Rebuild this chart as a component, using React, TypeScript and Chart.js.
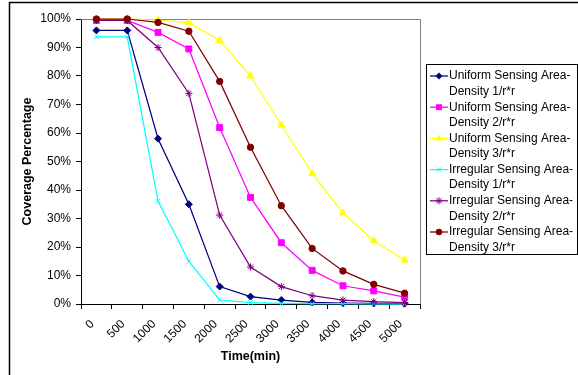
import React, { useEffect, useRef } from 'react';
import { Chart, registerables } from 'chart.js';

Chart.register(...registerables);

const FONT = "'Liberation Sans', Arial, sans-serif";

const timeLabels = ['0', '500', '1000', '1500', '2000', '2500', '3000', '3500', '4000', '4500', '5000'];
const yTickValues = [0, 10, 20, 30, 40, 50, 60, 70, 80, 90, 100];

const uniform1 = [96, 96, 58, 35, 6.1, 2.6, 1.4, 0.6, 0.3, 0.2, 0.1];
const uniform2 = [99.5, 99.5, 95.3, 89.5, 61.9, 37.4, 21.5, 11.8, 6.4, 4.6, 2.4];
const uniform3 = [100, 100, 99.6, 98.7, 92.5, 80, 62.8, 45.8, 31.9, 22.2, 15.4];
const irregular1 = [93.7, 93.7, 36.1, 15, 1.4, 0.5, 0.2, 0.1, 0.1, 0, 0];
const irregular2 = [99.5, 99.5, 90, 73.9, 31.2, 13, 6.1, 2.9, 1.4, 0.8, 0.5];
const irregular3 = [100, 100, 98.8, 95.7, 78.1, 55, 34.5, 19.5, 11.6, 6.9, 3.8];

const seriesNames = [
  ['Uniform Sensing Area-', 'Density 1/r*r'],
  ['Uniform Sensing Area-', 'Density 2/r*r'],
  ['Uniform Sensing Area-', 'Density 3/r*r'],
  ['Irregular Sensing Area-', 'Density 1/r*r'],
  ['Irregular Sensing Area-', 'Density 2/r*r'],
  ['Irregular Sensing Area-', 'Density 3/r*r'],
];
const seriesValues = [uniform1, uniform2, uniform3, irregular1, irregular2, irregular3];
const seriesColors = ['#000080', '#FF00FF', '#FFFF00', '#00FFFF', '#800080', '#800000'];
const seriesMarkers = ['rectRot', 'rect', 'triangle', 'crossRot', 'star', 'circle'];
const seriesRadius = [3.5, 4.2, 4, 3.2, 3.6, 3.2];

function drawMarker(ctx: CanvasRenderingContext2D, style: string, x: number, y: number, r: number, color: string) {
  ctx.save();
  ctx.fillStyle = color;
  ctx.strokeStyle = color;
  ctx.lineWidth = 1;
  ctx.beginPath();
  if (style === 'circle') {
    ctx.arc(x, y, r, 0, Math.PI * 2);
    ctx.fill();
  } else if (style === 'rect') {
    const s = r * Math.SQRT1_2;
    ctx.rect(x - s, y - s, 2 * s, 2 * s);
    ctx.fill();
  } else if (style === 'rectRot') {
    ctx.moveTo(x, y - r);
    ctx.lineTo(x + r, y);
    ctx.lineTo(x, y + r);
    ctx.lineTo(x - r, y);
    ctx.closePath();
    ctx.fill();
  } else if (style === 'triangle') {
    ctx.moveTo(x, y - r);
    ctx.lineTo(x + r * 0.87, y + r * 0.5);
    ctx.lineTo(x - r * 0.87, y + r * 0.5);
    ctx.closePath();
    ctx.fill();
  } else if (style === 'crossRot') {
    const s = r * Math.SQRT1_2;
    ctx.moveTo(x - s, y - s); ctx.lineTo(x + s, y + s);
    ctx.moveTo(x - s, y + s); ctx.lineTo(x + s, y - s);
    ctx.stroke();
  } else if (style === 'star') {
    const s = r * Math.SQRT1_2;
    ctx.moveTo(x - s, y - s); ctx.lineTo(x + s, y + s);
    ctx.moveTo(x - s, y + s); ctx.lineTo(x + s, y - s);
    ctx.moveTo(x, y - r); ctx.lineTo(x, y + r);
    ctx.moveTo(x - r, y); ctx.lineTo(x + r, y);
    ctx.stroke();
  }
  ctx.restore();
}

const framePlugin = {
  id: 'excelFrame',
  beforeDatasetsDraw(chart: any) {
    const { ctx, chartArea } = chart;
    ctx.save();
    ctx.strokeStyle = '#808080';
    ctx.lineWidth = 1;
    ctx.beginPath();
    ctx.moveTo(chartArea.left, Math.round(chartArea.top) + 0.5);
    ctx.lineTo(Math.round(chartArea.right) + 0.5, Math.round(chartArea.top) + 0.5);
    ctx.lineTo(Math.round(chartArea.right) + 0.5, chartArea.bottom);
    ctx.stroke();
    ctx.restore();
  },
  afterDraw(chart: any) {
    const ctx: CanvasRenderingContext2D = chart.ctx;
    ctx.save();
    // outer chart frame (cut off on the right and bottom)
    ctx.strokeStyle = '#000';
    ctx.lineWidth = 1.5;
    ctx.beginPath();
    ctx.moveTo(9.5, 400);
    ctx.lineTo(9.5, 2.5);
    ctx.lineTo(600, 2.5);
    ctx.stroke();
    // legend box
    ctx.lineWidth = 1;
    ctx.strokeRect(426.5, 64.5, 151, 190);
    ctx.font = `12px ${FONT}`;
    ctx.fillStyle = '#000';
    ctx.textBaseline = 'middle';
    ctx.textAlign = 'left';
    chart.data.datasets.forEach((ds: any, i: number) => {
      const y = 76 + i * 31.2;
      ctx.strokeStyle = ds.borderColor;
      ctx.lineWidth = 1.25;
      ctx.beginPath();
      ctx.moveTo(430, y);
      ctx.lineTo(448, y);
      ctx.stroke();
      drawMarker(ctx, ds.pointStyle, 439, y, ds.pointRadius, ds.borderColor);
      const lines: string[] = seriesNames[i];
      ctx.fillStyle = '#000';
      lines.forEach((t, j) => ctx.fillText(t, 449, y + j * 15.5));
    });
    ctx.restore();
  },
};

export default function App() {
  const canvasRef = useRef<HTMLCanvasElement | null>(null);

  useEffect(() => {
    if (!canvasRef.current) return;
    Chart.defaults.color = '#000';
    const datasets = seriesValues.map((vals, i) => ({
      label: seriesNames[i].join(' '),
      data: vals,
      borderColor: seriesColors[i],
      backgroundColor: seriesColors[i],
      borderWidth: 1.25,
      pointStyle: seriesMarkers[i],
      pointRadius: seriesRadius[i],
      pointBorderWidth: 1,
      pointHoverRadius: seriesRadius[i],
      tension: 0,
      fill: false,
      clip: false as any,
      order: seriesValues.length - i,
    }));
    const chart = new Chart(canvasRef.current, {
      type: 'line',
      data: { labels: timeLabels, datasets },
      plugins: [framePlugin],
      options: {
        responsive: false,
        animation: false,
        devicePixelRatio: 1,
        layout: { padding: { left: 0, top: 19, right: 158, bottom: 0 } },
        plugins: { legend: { display: false }, tooltip: { enabled: false } },
        scales: {
          x: {
            type: 'category',
            offset: true,
            afterFit: (scale: any) => { scale.height = 71; },
            grid: { drawOnChartArea: false, drawTicks: true, tickLength: 5, color: '#000', offset: true },
            border: { display: true, color: '#000', width: 1 },
            ticks: {
              autoSkip: false,
              maxRotation: 45,
              minRotation: 45,
              padding: 8,
              labelOffset: -4,
              font: { family: FONT, size: 12 },
              color: '#000',
            },
            title: {
              display: true,
              text: 'Time(min)',
              font: { family: FONT, size: 12.5, weight: 'bold' },
              color: '#000',
              padding: { top: 0, bottom: 10.5 },
            },
          },
          y: {
            min: 0,
            max: 100,
            afterFit: (scale: any) => { scale.width = 81; },
            afterBuildTicks: (scale: any) => { scale.ticks = yTickValues.map((v) => ({ value: v })); },
            grid: { drawOnChartArea: false, drawTicks: true, tickLength: 5, color: '#000' },
            border: { display: true, color: '#000', width: 1 },
            ticks: {
              padding: 5,
              font: { family: FONT, size: 12 },
              color: '#000',
              callback: (v: any) => `${v}%`,
            },
            title: {
              display: true,
              text: 'Coverage Percentage',
              font: { family: FONT, size: 12.5, weight: 'bold' },
              color: '#000',
              padding: { top: 20.5, bottom: 0 },
            },
          },
        },
      } as any,
    });
    return () => chart.destroy();
  }, []);

  return (
    <div style={{ position: 'absolute', left: 0, top: 0, width: 578, height: 375, background: '#fff' }}>
      <canvas ref={canvasRef} width={578} height={375} style={{ width: 578, height: 375, display: 'block' }} />
    </div>
  );
}
